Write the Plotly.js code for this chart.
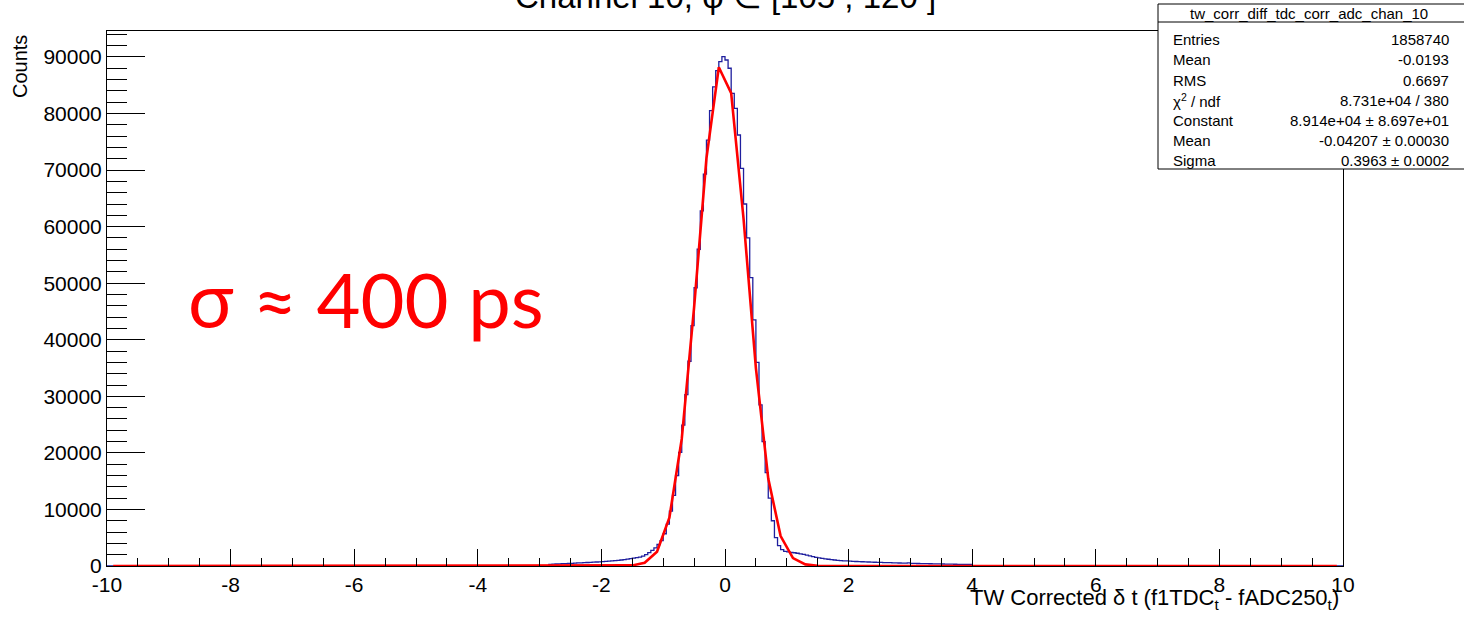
<!DOCTYPE html>
<html>
<head>
<meta charset="utf-8">
<script src="https://cdn.plot.ly/plotly-3.0.1.min.js"></script>
<style>html,body{margin:0;padding:0;background:#fff;}#chart{width:1464px;height:622px;}</style>
</head>
<body>
<div id="chart"></div>
<script>
// ---- Data ----
const chartTitle = "Channel 10, φ ∈ [105<sup>°</sup>, 120<sup>°</sup>]";
const xTickVals = [-10, -8, -6, -4, -2, 0, 2, 4, 6, 8, 10];
const xTickText = ["-10", "-8", "-6", "-4", "-2", "0", "2", "4", "6", "8", "10"];
const histLow = -2.85;      // first non-empty bin edge
const histBinWidth = 0.05;  // 400 bins over [-10, 10]
const histCounts = [
  290, 320, 350, 380, 410, 430, 460, 480, 510, 540,
  570, 590, 620, 650, 680, 710, 740, 770, 810, 850,
  890, 940, 990, 1060, 1130, 1210, 1300, 1380, 1470, 1580,
  1750, 2000, 2350, 2750, 3200, 3800, 4500, 5700, 7400, 9700,
  12500, 16000, 20100, 24900, 30300, 36200, 42500, 49200, 56000, 62800,
  69300, 75300, 80500, 84700, 87600, 89170, 90050, 89460, 88000, 83570,
  80920, 76200, 70300, 64000, 58000, 51000, 43500, 36000, 28500, 22000,
  16500, 12000, 8000, 5000, 3600, 2900,
  2600, 2500, 2420, 2340, 2250, 2150, 2040, 1920, 1790, 1660,
  1540, 1440, 1350, 1270, 1190, 1120, 1060, 1000, 960, 920,
  890, 860, 830, 800, 775, 750, 725, 705, 685, 665,
  650, 630, 610, 595, 580, 560, 545, 530, 515, 500,
  540, 470, 460, 445, 430, 420, 405, 395, 380, 370,
  360, 350, 340, 330, 320, 310, 300, 295, 290, 280,
  270
];
// Gaussian fit polyline (as drawn, coarse sampling)
const fitX = [-9.9, -1.9, -1.7, -1.5, -1.3, -1.1, -0.9, -0.7, -0.5, -0.3, -0.1, 0.1, 0.3, 0.5, 0.7, 0.9, 1.1, 1.3, 1.5, 1.7, 1.9, 9.9];
const fitY = [0, 2, 14, 102, 578, 2524, 8550, 22460, 45710, 72110, 88180, 83590, 61430, 34990, 15450, 5280, 1400, 289, 46, 6, 1, 0];
const statsName = "tw_corr_diff_tdc_corr_adc_chan_10";
const statLabels = ["Entries", "Mean", "RMS", "χ<sup>2</sup> / ndf", "Constant", "Mean", "Sigma"];
const statValues = ["1858740", "-0.0193", "0.6697", "8.731e+04 / 380", "8.914e+04 ± 8.697e+01", "-0.04207 ± 0.00030", "0.3963 ± 0.0002"];
const noteText = "σ ≈ 400 ps";
const xTitle = "TW Corrected δ t (f1TDC<sub>t</sub> - fADC250<sub>t</sub>)";
const yTitle = "Counts";

// ---- Build histogram outline ----
const histX = [-10], histY = [0];
for (let i = 0; i < histCounts.length; i++) {
  histX.push(+(histLow + i * histBinWidth).toFixed(3));
  histY.push(histCounts[i]);
}
histX.push(+(histLow + histCounts.length * histBinWidth).toFixed(3)); histY.push(0);
histX.push(10); histY.push(0);

// ---- Geometry helpers (pixel -> paper) ----
const W = 1464, H = 622;
const L = 107, R = 1343, T = 31, B = 566;
const px = x => (x - L) / (R - L);
const py = y => (B - y) / (B - T);

const FONT = "Liberation Sans, Arial, Helvetica, sans-serif";

const traces = [
  {x: histX, y: histY, type: "scatter", mode: "lines",
   line: {shape: "hv", color: "#1f1f9e", width: 1.3}, hoverinfo: "skip"},
  {x: fitX, y: fitY, type: "scatter", mode: "lines",
   line: {color: "#ff0000", width: 2.6}, hoverinfo: "skip"}
];

const annotations = [];
// title
annotations.push({text: chartTitle, xref: "paper", yref: "paper", x: px(725), y: py(-6),
  xanchor: "center", yanchor: "middle", showarrow: false, font: {family: FONT, size: 33, color: "#000"}});
// y title
annotations.push({text: yTitle, xref: "paper", yref: "paper", x: px(20), y: py(67), textangle: -90,
  xanchor: "center", yanchor: "middle", showarrow: false, font: {family: FONT, size: 20, color: "#000"}});
// x title
annotations.push({text: xTitle, xref: "paper", yref: "paper", x: px(1341), y: py(599),
  xanchor: "right", yanchor: "middle", showarrow: false, font: {family: FONT, size: 22, color: "#000"}});
// note
annotations.push({text: noteText, xref: "paper", yref: "paper", x: px(366), y: py(298),
  xanchor: "center", yanchor: "middle", showarrow: false, font: {family: "Lato, Open Sans, sans-serif", size: 76, color: "#ff0000"}});
// stats header
annotations.push({text: statsName, xref: "paper", yref: "paper", x: px(1309), y: py(13),
  xanchor: "center", yanchor: "middle", showarrow: false, font: {family: FONT, size: 15, color: "#000"}});
for (let i = 0; i < statLabels.length; i++) {
  const yy = 40 + i * 20;
  annotations.push({text: statLabels[i], xref: "paper", yref: "paper", x: px(1171), y: py(yy),
    xanchor: "left", yanchor: "middle", showarrow: false, font: {family: FONT, size: 15, color: "#000"}});
  annotations.push({text: statValues[i], xref: "paper", yref: "paper", x: px(1451), y: py(yy),
    xanchor: "right", yanchor: "middle", showarrow: false, font: {family: FONT, size: 15, color: "#000"}});
}

const shapes = [
  {type: "rect", xref: "paper", yref: "paper", x0: px(1158), x1: px(1480), y0: py(169), y1: py(4),
   line: {color: "#000", width: 1}, fillcolor: "#ffffff", layer: "above"},
  {type: "line", xref: "paper", yref: "paper", x0: px(1158), x1: px(1480), y0: py(22), y1: py(22),
   line: {color: "#000", width: 1}, layer: "above"}
];

const layout = {
  width: W, height: H,
  margin: {l: L, r: W - R, t: T, b: H - B, pad: 0},
  paper_bgcolor: "#ffffff", plot_bgcolor: "#ffffff",
  showlegend: false,
  font: {family: FONT, color: "#000"},
  xaxis: {
    range: [-10, 10], tickmode: "array", tickvals: xTickVals, ticktext: xTickText,
    ticks: "inside", ticklen: 17, tickwidth: 1, tickcolor: "#000",
    minor: {dtick: 0.5, ticks: "inside", ticklen: 8, tickwidth: 1, tickcolor: "#000", showgrid: false},
    showline: true, linecolor: "#000", linewidth: 1, mirror: true,
    showgrid: false, zeroline: false, tickfont: {family: FONT, size: 21, color: "#000"}
  },
  yaxis: {
    range: [0, 94590], dtick: 10000, tick0: 0, tickformat: "d",
    ticks: "inside", ticklen: 38, tickwidth: 1, tickcolor: "#000",
    minor: {dtick: 2000, ticks: "inside", ticklen: 20, tickwidth: 1, tickcolor: "#000", showgrid: false},
    showline: true, linecolor: "#000", linewidth: 1, mirror: true,
    showgrid: false, zeroline: false, tickfont: {family: FONT, size: 21, color: "#000"}
  },
  annotations: annotations,
  shapes: shapes
};

Plotly.newPlot("chart", traces, layout, {staticPlot: true, displayModeBar: false});
</script>
</body>
</html>
